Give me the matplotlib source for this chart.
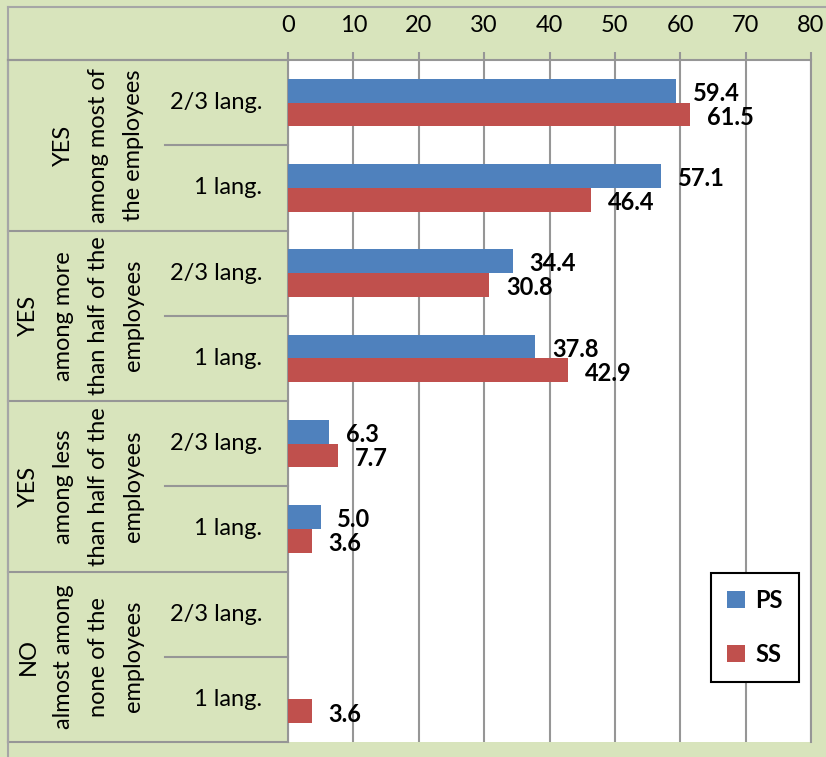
import numpy as np
import matplotlib.pyplot as plt
from matplotlib.lines import Line2D
from matplotlib.transforms import blended_transform_factory

groups = ['YES\namong most of\nthe employees',
          'YES\namong more\nthan half of the\nemployees',
          'YES\namong less\nthan half of the\nemployees',
          'NO\nalmost among\nnone of the\nemployees']
subgroups = ['2/3 lang.', '1 lang.']
ps_values = [59.4, 57.1, 34.4, 37.8, 6.3, 5.0, np.nan, np.nan]
ss_values = [61.5, 46.4, 30.8, 42.9, 7.7, 3.6, np.nan, 3.6]
x_ticks = [0, 10, 20, 30, 40, 50, 60, 70, 80]

GREEN = '#d8e4bc'
GRID = '#969696'
BLUE = '#4f81bd'
RED = '#c0504d'

plt.rcParams['font.family'] = ['Lato', 'DejaVu Sans']

W, H = 826, 757
fig = plt.figure(figsize=(W / 100, H / 100), dpi=100, facecolor=GREEN)
ax = fig.add_axes([288 / W, 15 / H, 523 / W, 682 / H])
ax.set_facecolor('white')

rows = np.arange(len(ps_values))
bh = 0.28
ax.barh(rows - bh / 2, ps_values, height=bh, color=BLUE, label='PS', zorder=3)
ax.barh(rows + bh / 2, ss_values, height=bh, color=RED, label='SS', zorder=3)

for vals, off in ((ps_values, -bh / 2), (ss_values, bh / 2)):
    for r, v in zip(rows, vals):
        if np.isnan(v):
            continue
        ax.annotate(f'{v:.1f}', (v, r + off), xytext=(12, -2),
                    textcoords='offset points', ha='left', va='center',
                    fontsize=17, fontweight='bold', color='black')

ax.set_xlim(0, 80)
ax.set_ylim(len(rows) - 0.5, -0.5)
ax.set_xticks(x_ticks)
ax.xaxis.tick_top()
ax.tick_params(axis='x', length=6, width=1.5, color=GRID, pad=11, labelsize=17)
ax.set_yticks([])
ax.grid(axis='x', color=GRID, lw=1.5, zorder=0)
for side in ('top', 'left', 'right'):
    ax.spines[side].set_color(GRID)
    ax.spines[side].set_linewidth(1.5)
ax.spines['bottom'].set_visible(False)

# table on the left: x in figure pixels, y in row units
tr = blended_transform_factory(fig.transFigure, ax.transData)
line_kw = dict(color=GRID, lw=1.5, transform=tr, clip_on=False)
for g in range(len(groups) + 1):
    y = 2 * g - 0.5
    ax.add_line(Line2D([8 / W, 288 / W], [y, y], **line_kw))
for g in range(len(groups)):
    y = 2 * g + 0.5
    ax.add_line(Line2D([165 / W, 288 / W], [y, y], **line_kw))
ax.add_line(Line2D([8 / W, 8 / W], [-0.5, len(rows) - 0.5], **line_kw))

for r in rows:
    ax.text(262 / W, r, subgroups[r % 2], transform=tr, ha='right',
            va='center', fontsize=17)
for g, name in enumerate(groups):
    ax.text(144 / W, 2 * g + 0.5, name, transform=tr, rotation=90,
            ha='right', va='center', multialignment='center',
            fontsize=17, linespacing=1.83)

# outer frame
fig.add_artist(Line2D([8 / W, 1], [1 - 7 / H, 1 - 7 / H], color='#a6a6a6', lw=1.5))
fig.add_artist(Line2D([8 / W, 8 / W], [0, 1 - 7 / H], color='#a6a6a6', lw=1.5))
fig.add_artist(Line2D([8 / W, 288 / W], [1 - 60 / H, 1 - 60 / H], color=GRID, lw=1.5))

leg = ax.legend(loc='center', bbox_to_anchor=(0.893, 0.168),
                prop={'weight': 'bold', 'size': 17}, frameon=True,
                fancybox=False, edgecolor='black', framealpha=1,
                handlelength=0.75, handleheight=0.75, handletextpad=0.45,
                labelspacing=1.3, borderpad=0.7)
leg.get_frame().set_linewidth(1.5)
leg.set_zorder(5)

fig.savefig('out.png', dpi=100, facecolor=GREEN)
